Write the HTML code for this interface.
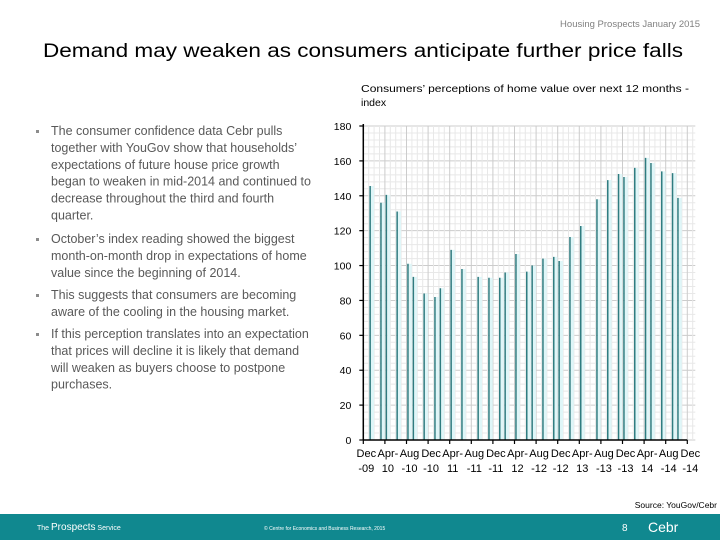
<!DOCTYPE html>
<html><head><meta charset="utf-8"><style>
html,body{margin:0;padding:0;background:#fff;}
svg{display:block;font-family:"Liberation Sans",sans-serif;}
</style></head><body>
<svg id="root" width="720" height="540" viewBox="0 0 720 540" xmlns="http://www.w3.org/2000/svg">
<text x="700" y="27" font-size="9.5" fill="#808080" text-anchor="end">Housing Prospects January 2015</text>
<text x="43" y="57" font-size="19" fill="#000" textLength="640" lengthAdjust="spacingAndGlyphs">Demand may weaken as consumers anticipate further price falls</text>
<text x="361" y="92" font-size="10.5" fill="#000" textLength="328" lengthAdjust="spacingAndGlyphs">Consumers’ perceptions of home value over next 12 months -</text>
<text x="361" y="106" font-size="10.5" fill="#000">index</text>
<g id="bullets" fill="#595959" font-size="12.5"></g>
<g id="chart"></g>
<text x="717" y="508" font-size="8.5" fill="#000" text-anchor="end">Source: YouGov/Cebr</text>
<rect x="0" y="514" width="720" height="26" fill="#10888f"/>
<text x="37" y="530" font-size="7" fill="#fff">The <tspan font-size="10">Prospects</tspan> Service</text>
<text x="264" y="530" font-size="5" fill="#fff">© Centre for Economics and Business Research, 2015</text>
<text x="622" y="531" font-size="10" fill="#fff">8</text>
<text x="648" y="532" font-size="14" fill="#fff">Cebr</text>
</svg>
<script>
const NS='http://www.w3.org/2000/svg';
// chart data
const monthIndex=[0,2,3,5,7,8,10,12,13,15,17,20,22,24,25,27,29,30,32,34,35,37,39,42,44,46,47,49,51,52,54,56,57];
const values=[145.6,136,140.5,131,101,93.5,84,82,87,109,98,93.5,93,93,96,106.6,96.5,100,104,105,102.6,116.4,122.7,138,149,152.5,150.8,156,161.7,158.8,154,153,138.8];
const yTicks=[0,20,40,60,80,100,120,140,160,180];
const xLabels1=['Dec','Apr-','Aug','Dec','Apr-','Aug','Dec','Apr-','Aug','Dec','Apr-','Aug','Dec','Apr-','Aug','Dec'];
const xLabels2=['-09','10','-10','-10','11','-11','-11','12','-12','-12','13','-13','-13','14','-14','-14'];
const bulletLines=[
 ['The consumer confidence data Cebr pulls','together with YouGov show that households’','expectations of future house price growth','began to weaken in mid-2014 and continued to','decrease throughout the third and fourth','quarter.'],
 ['October’s index reading showed the biggest','month-on-month drop in expectations of home','value since the beginning of 2014.'],
 ['This suggests that consumers are becoming','aware of the cooling in the housing market.'],
 ['If this perception translates into an expectation','that prices will decline it is likely that demand','will weaken as buyers choose to postpone','purchases.']];
const X0=363.3,X1=687.3,Y0=440,Y1=126,MONTHS=60;
const xs=m=>X0+(m+1.27)*(X1-X0)/MONTHS;
const ys=v=>Y0-(v/180)*(Y0-Y1);
function mk(t,a,p){const e=document.createElementNS(NS,t);for(const k in a)e.setAttribute(k,a[k]);p.appendChild(e);return e;}
const ch=document.getElementById('chart');
for(let v=0;v<=180;v+=4){const l=mk('line',{x1:X0,x2:X1+8,y1:ys(v),y2:ys(v),stroke:v%20===0?'#cccccc':'#e8e8e8','stroke-width':1},ch);

}
for(let x=X0;x<=X1+6;x+=5.4){const k=Math.round((x-X0)/5.4);const l=mk('line',{x1:x,x2:x,y1:Y1,y2:Y0,stroke:k%4===0?'#cccccc':'#e8e8e8','stroke-width':1},ch);

}
values.forEach((v,i)=>{const x=xs(monthIndex[i]);
const s=mk('rect',{x:x+0.8,y:ys(v),width:3,height:Y0-ys(v),fill:'#dff6f8'},ch);


const b=mk('line',{x1:x,x2:x,y1:ys(v),y2:Y0,stroke:'#2f7c80','stroke-width':1.5},ch);

});
const ya=mk('line',{x1:X0,x2:X0,y1:Y1-2,y2:Y0,stroke:'#000','stroke-width':1.5},ch);


const xa=mk('line',{x1:X0,x2:X1,y1:Y0,y2:Y0,stroke:'#000','stroke-width':1.5},ch);


yTicks.forEach(v=>{const t=mk('line',{x1:X0-4,x2:X0,y1:ys(v),y2:ys(v),stroke:'#000','stroke-width':1.2},ch);


const l=mk('text',{x:X0-12,y:ys(v)+4,'font-size':10.5,'text-anchor':'end',fill:'#000'},ch);l.textContent=v;

});
xLabels1.forEach((s,i)=>{const x=X0+i*(X1-X0)/15;
const t=mk('line',{x1:x,x2:x,y1:Y0,y2:Y0+4,stroke:'#000','stroke-width':1.2},ch);


const a=mk('text',{x:x+3,y:457,'font-size':11,'text-anchor':'middle',fill:'#000'},ch);a.textContent=s;


const b=mk('text',{x:x+3,y:472,'font-size':11,'text-anchor':'middle',fill:'#000'},ch);b.textContent=xLabels2[i];

});
const bg=document.getElementById('bullets');
const starts=[135,243,299,338];
bulletLines.forEach((lines,bi)=>{
const d=mk('rect',{x:36,y:starts[bi]-5,width:3,height:3,fill:'#8c8c8c'},bg);


lines.forEach((ln,li)=>{const t=mk('text',{x:51,y:starts[bi]+li*16.9},bg);t.textContent=ln;

});});
</script>
</body></html>
